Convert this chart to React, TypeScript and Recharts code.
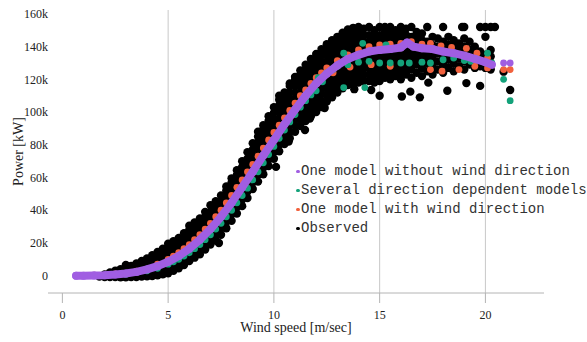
import React from 'react';
import { ScatterChart, Scatter, XAxis, YAxis, ReferenceLine, Legend } from 'recharts';

const PURPLE = '#a05ee2';
const TEAL = '#13a27a';
const ORANGE = '#f2613d';
const BLACK = '#000000';

const xTicks = [0, 5, 10, 15, 20];
const yTicks = [0, 20000, 40000, 60000, 80000, 100000, 120000, 140000, 160000];
const gridX = [5, 10, 15, 20];
const seriesNames = [
  'One model without wind direction',
  'Several direction dependent models',
  'One model with wind direction',
  'Observed',
];
const seriesColors = [PURPLE, TEAL, ORANGE, BLACK];

// One model without wind direction (x m/s, y kW)
const purpleCurve: [number, number][] = [
  [0.65, 0], [1, 0], [1.5, 100], [2, 300], [2.5, 700], [3, 1300], [3.5, 2300], [4, 3800],
  [4.5, 5800], [5, 8500], [5.5, 12000], [6, 16500], [6.5, 22000], [7, 28500], [7.5, 36000],
  [8, 44500], [8.5, 54000], [9, 63500], [9.5, 73500], [10, 83000], [10.5, 92500], [11, 101500],
  [11.5, 110000], [12, 117500], [12.5, 123500], [13, 128500], [13.5, 132500], [14, 135000],
  [14.5, 137000], [15, 138000], [15.5, 138500], [16, 139500], [16.3, 142500], [16.6, 140000],
  [17, 139000], [17.5, 138500], [18, 137000], [18.5, 136000], [19, 134500], [19.5, 132500],
  [20, 130500], [20.3, 129000],
];
const purpleExtra: [number, number][] = [[20.86, 130000], [21.17, 130000]];

// Several direction dependent models
const tealPoints: [number, number][] = [
  [1, 0], [2, 200], [3, 900], [4, 3000], [4.5, 4500], [5, 7000], [5.25, 8500], [5.5, 10000],
  [5.75, 12000], [6, 14000], [6.25, 16500], [6.5, 19000], [6.75, 22000], [7, 25000],
  [7.25, 28500], [7.5, 32000], [7.75, 36000], [8, 40000], [8.25, 44500], [8.5, 49000],
  [8.75, 53500], [9, 58500], [9.25, 63500], [9.5, 69000], [9.75, 74000], [10, 79000],
  [10.25, 84000], [10.5, 89000], [10.75, 94000], [11, 98500], [11.25, 103000], [11.5, 107000],
  [11.75, 110500], [12, 113000], [12.1, 121000], [12.3, 118500],
  [12.5, 124000], [12.8, 126000], [13, 128000], [13.3, 115000], [13.3, 136000], [13.5, 129000],
  [14, 130500], [14.2, 142000], [14.3, 115000], [14.5, 131000], [15, 130000], [15.3, 141000],
  [15.5, 130000], [16, 130000], [16.4, 130000], [17, 130500], [17.4, 130000], [18, 132000],
  [18.5, 133000], [19, 131500], [19.3, 131000], [19.7, 132000], [20.1, 136000], [20.3, 130000],
  [20.86, 120000], [21.17, 107000],
];

// One model with wind direction
const orangePoints: [number, number][] = [
  [1.5, 300], [2.5, 1000], [3.5, 2800], [4.5, 7000], [5, 10000], [5.25, 12000], [5.5, 14000],
  [5.75, 16500], [6, 19000], [6.25, 22000], [6.5, 25000], [6.75, 28500], [7, 32000],
  [7.25, 36000], [7.5, 40000], [7.75, 44500], [8, 49000], [8.25, 54000], [8.5, 58500],
  [8.75, 63500], [9, 68000], [9.25, 73000], [9.5, 78000], [9.75, 83000], [10, 87500],
  [10.25, 92000], [10.5, 96500], [10.75, 101000], [11, 105500], [11.25, 110000], [11.5, 113500],
  [11.75, 117500], [12, 121000], [12.25, 124000], [12.5, 127000],
  [13, 131500], [13.5, 135000], [14, 138000], [14.5, 140000], [15, 141000], [15.5, 141500],
  [16, 142000], [16.5, 143000], [17, 141500], [17.4, 142000], [17.9, 140500], [18.4, 139500],
  [19.1, 139000], [19.6, 136000], [20.1, 133000], [12.8, 124000], [13.6, 127500],
  [14.6, 129000], [15.5, 128000], [17.4, 126000], [17.95, 125000], [18.75, 126000],
  [19.5, 128000], [20.1, 127000], [20.86, 126000], [21.17, 126000],
];

// Observed: wind speed column -> power values (thousands of kW)
const observedColumns: [number, number[]][] = [
  [1.75, [-0.5]],
  [2.0, [-0.8, 0.8]],
  [2.25, [-0.9, 1.0, 2.0]],
  [2.5, [-0.9, 1.2, 3.0]],
  [2.75, [-1.0, 1.5, 4.0]],
  [3.0, [-1.0, 2.0, 4.5, 6.5]],
  [3.25, [-0.9, 2.3, 5.0, 6.0]],
  [3.5, [-0.8, 2.6, 5.6, 7.5]],
  [3.75, [-0.6, 3.0, 6.4, 9.0]],
  [4.0, [-0.4, 3.4, 7.0, 10.5]],
  [4.25, [-0.2, 3.8, 7.6, 11.5, 12.5]],
  [4.5, [0.2, 4.2, 8.2, 12.0, 14.5]],
  [4.75, [0.8, 4.8, 8.8, 12.8, 16.5]],
  [5.0, [1.5, 5.5, 9.5, 13.5, 17, 19.5]],
  [5.25, [3, 7, 11, 15, 18.5, 21]],
  [5.5, [4.5, 8.5, 12.5, 16.5, 20, 23]],
  [5.75, [6.5, 10.5, 14.5, 18.5, 22.5, 26]],
  [6.0, [9, 13, 17, 21, 25, 28, 30.5]],
  [6.25, [11, 15, 19, 23, 27, 30, 32.5]],
  [6.5, [13, 17, 21, 25, 29, 32.5, 35]],
  [6.75, [16, 20, 24, 28, 32, 36, 39]],
  [7.0, [19, 23, 27, 31, 35, 39, 43]],
  [7.25, [21.5, 25.5, 29.5, 33.5, 37.5, 41.5, 45.5]],
  [7.5, [25, 29, 33, 37, 41, 45, 49]],
  [7.75, [29, 33, 37, 41, 45, 49, 52, 54.5]],
  [8.0, [33.5, 37.5, 41.5, 45.5, 49.5, 53.5, 57, 59.5]],
  [8.25, [38, 42, 46, 50, 54, 58, 61.5, 64.5]],
  [8.5, [42.5, 46.5, 50.5, 54.5, 58.5, 62.5, 66.5, 70]],
  [8.75, [47.5, 51.5, 55.5, 59.5, 63.5, 67.5, 71.5, 75.5]],
  [9.0, [53, 57, 61, 65, 69, 73, 77, 81]],
  [9.25, [57.5, 61.5, 65.5, 69.5, 73.5, 77.5, 81.5, 85, 88]],
  [9.5, [62, 66, 70, 74, 78, 82, 86, 89.5, 92]],
  [9.75, [67, 71, 75, 79, 83, 87, 91, 94.5, 97.5]],
  [10.0, [71.5, 75.5, 79.5, 83.5, 87.5, 91.5, 95.5, 99.5, 103]],
  [10.25, [76, 80, 84, 88, 92, 96, 100, 104, 107.5, 110]],
  [10.5, [80.5, 84.5, 88.5, 92.5, 96.5, 100.5, 104.5, 108.5, 112]],
  [10.75, [84, 88, 92, 96, 100, 104, 108, 112, 116, 117.5]],
  [11.0, [88, 92, 96, 100, 104, 108, 112, 116, 119.5, 121.5]],
  [11.25, [91.5, 95.5, 99.5, 103.5, 107.5, 111.5, 115.5, 119.5, 123, 125.5]],
  [11.5, [94.5, 98.5, 102.5, 106.5, 110.5, 114.5, 118.5, 122.5, 126, 129]],
  [11.75, [97.5, 101.5, 105.5, 109.5, 113.5, 117.5, 121.5, 125.5, 129, 132.5]],
  [12.0, [100, 104, 108, 112, 116, 120, 124, 128, 132, 135.5]],
  [12.25, [103, 107, 111, 115, 119, 123, 127, 131, 135, 138.5]],
  [12.5, [106.5, 110.5, 114.5, 118.5, 122.5, 126.5, 130.5, 134.5, 138, 141.5]],
  [12.75, [109, 113, 117, 121, 125, 129, 133, 137, 141, 144]],
  [13.0, [112, 116, 120, 124, 128, 132, 136, 140, 143.5, 146]],
  [13.25, [114.5, 118.5, 122.5, 126.5, 130.5, 134.5, 138.5, 142.5, 146, 148.5]],
  [13.5, [116.5, 120.5, 124.5, 128.5, 132.5, 136.5, 140.5, 144.5, 148, 150.5]],
  [13.75, [117, 121, 125, 129, 133, 137, 141, 145, 149, 151.5]],
  [14.0, [118, 122, 126, 130, 134, 138, 142, 146, 150, 152]],
  [14.25, [119, 123, 127, 131, 135, 139, 143, 147, 151]],
  [14.5, [119, 123, 127, 131, 135, 139, 143, 147, 152]],
  [14.75, [118, 122, 126, 130, 134, 138, 142, 146, 150]],
  [15.0, [119, 123, 127, 131, 135, 139, 143, 147, 152]],
  [15.25, [121, 125, 129, 133, 137, 141, 145, 149, 152]],
  [15.5, [120, 124, 128, 132, 136, 140, 144, 148, 152]],
  [15.75, [122, 126, 130, 134, 138, 142, 146, 150]],
  [16.0, [120, 124, 128, 132, 136, 140, 144, 148, 152]],
  [16.25, [123, 127, 131, 135, 139, 143, 147, 151]],
  [16.5, [121, 126, 130, 134, 138, 142, 146, 152]],
  [16.75, [124, 129, 133, 137, 141, 145, 149]],
  [17.0, [122, 127, 132, 136, 140, 144, 148]],
  [17.25, [125, 130, 134, 138, 143, 152]],
  [17.5, [123, 128, 133, 137, 141, 146]],
  [17.75, [126, 131, 136, 140, 145]],
  [18.0, [124, 129, 134, 139, 143, 152]],
  [18.25, [127, 132, 137, 141, 146]],
  [18.5, [125, 130, 135, 140, 144]],
  [18.75, [128, 133, 138, 142]],
  [19.0, [126, 131, 136, 140, 145, 152]],
  [19.25, [129, 134, 138, 143]],
  [19.5, [127, 132, 136, 140]],
  [19.75, [128, 133, 137, 152]],
  [20.0, [127, 131, 135, 146, 152]],
  [20.25, [126, 130, 134, 138, 152]],
];
const observedOutliers: [number, number][] = [
  [7.4, 20], [10.1, 66.5], [10.7, 82], [11.47, 89], [11.7, 96], [12.4, 102.5], [13.8, 114],
  [14.6, 113.5], [15.0, 110], [16.05, 109.5], [16.45, 112.5], [16.9, 109], [17.3, 118],
  [18.2, 113], [19.1, 117.7], [19.75, 116], [20.86, 124.7], [21.17, 113.5], [18.9, 152],
  [20.45, 152],
];

const toPts = (arr: [number, number][]) => arr.map(([x, y]) => ({ x, y }));
const observedData = [
  ...observedColumns.flatMap(([x, ys]) => ys.map((y) => ({ x, y: y * 1000 }))),
  ...observedOutliers.map(([x, y]) => ({ x, y: y * 1000 })),
];

const dot = (r: number, color: string) => (props: any) =>
  props.cx == null ? <g /> : <circle cx={props.cx} cy={props.cy} r={r} fill={color} />;

const SERIF = '"Liberation Serif", "Times New Roman", serif';
const MONO = '"Liberation Mono", "Courier New", monospace';

const renderLegend = () => (
  <div style={{ fontFamily: MONO, fontSize: 14, color: '#333', lineHeight: '19px' }}>
    {seriesNames.map((n, i) => (
      <div key={n} style={{ display: 'flex', alignItems: 'center', whiteSpace: 'nowrap', height: 19 }}>
        <span
          style={{
            display: 'inline-block', flexShrink: 0, width: 3.5, height: 3.5, borderRadius: '50%',
            background: seriesColors[i], marginRight: 1.5,
          }}
        />
        <span>{n}</span>
      </div>
    ))}
  </div>
);

export default function App() {
  return (
    <div style={{ position: 'absolute', left: 0, top: 0, width: 587, height: 342, background: '#fff', overflow: 'hidden' }}>
      <ScatterChart width={587} height={342} margin={{ top: 10, right: 43, bottom: 0, left: 0 }}>
        <XAxis
          type="number"
          dataKey="x"
          domain={[-0.68, 22.77]}
          ticks={xTicks}
          allowDataOverflow
          height={49}
          tickSize={10}
          tickMargin={7}
          stroke="#b4b4b4"
          axisLine={{ stroke: '#b4b4b4' }}
          tickLine={{ stroke: '#b4b4b4' }}
          tick={{ fill: '#222', fontSize: 12, fontFamily: SERIF }}
          label={{
            value: 'Wind speed [m/sec]', position: 'insideBottom', offset: 10,
            style: { fill: '#222', fontSize: 14, fontFamily: SERIF },
          }}
        />
        <YAxis
          type="number"
          dataKey="y"
          domain={[-10600, 162400]}
          ticks={yTicks}
          allowDataOverflow
          width={48}
          axisLine={false}
          tickLine={false}
          tickSize={0}
          tickMargin={0}
          tickFormatter={(v: number) => (v === 0 ? '0' : `${v / 1000}k`)}
          tick={{ fill: '#222', fontSize: 12, fontFamily: SERIF }}
          label={{
            value: 'Power [kW]', angle: -90, position: 'insideLeft', offset: 18,
            style: { fill: '#222', fontSize: 14, fontFamily: SERIF, textAnchor: 'middle' },
          }}
        />
        {gridX.map((g) => (
          <ReferenceLine key={g} x={g} stroke="#c8c8c8" strokeWidth={1} />
        ))}
        <Legend
          layout="vertical"
          align="center"
          verticalAlign="middle"
          wrapperStyle={{ left: 296, top: 162, width: 291 }}
          content={renderLegend}
        />
        <Scatter name="Observed" data={observedData} fill={BLACK} shape={dot(4.2, BLACK)} isAnimationActive={false} />
        <Scatter name="One model with wind direction" data={toPts(orangePoints)} fill={ORANGE} shape={dot(3.4, ORANGE)} isAnimationActive={false} />
        <Scatter name="Several direction dependent models" data={toPts(tealPoints)} fill={TEAL} shape={dot(3.4, TEAL)} isAnimationActive={false} />
        <Scatter
          name="One model without wind direction"
          data={toPts(purpleCurve)}
          fill={PURPLE}
          shape={dot(4, PURPLE)}
          line={{ stroke: PURPLE, strokeWidth: 8, strokeLinejoin: 'round', strokeLinecap: 'round' }}
          lineType="joint"
          isAnimationActive={false}
        />
        <Scatter name="purple-extra" data={toPts(purpleExtra)} fill={PURPLE} shape={dot(3.4, PURPLE)} isAnimationActive={false} />
      </ScatterChart>
    </div>
  );
}
